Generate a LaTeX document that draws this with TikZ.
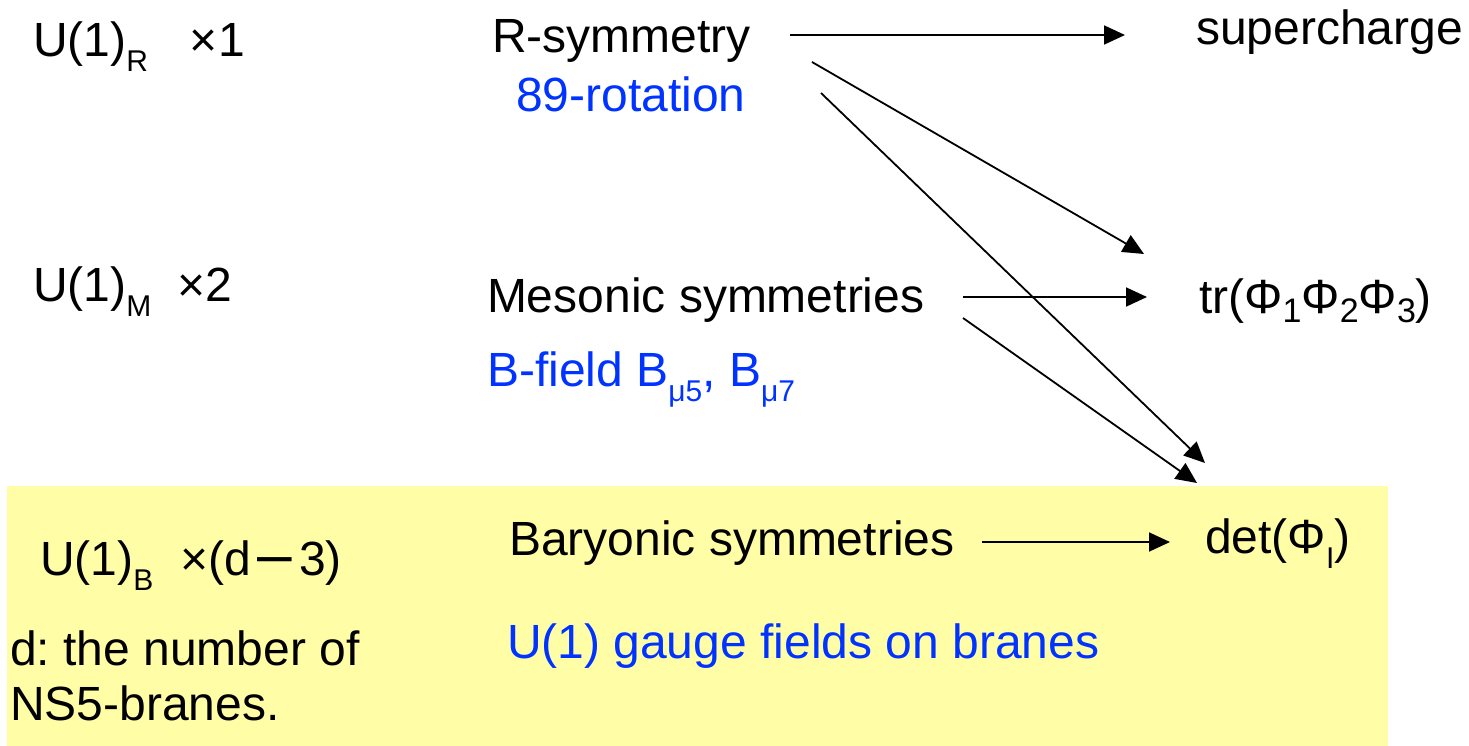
\documentclass[tikz,border=0pt]{standalone}
\usepackage{fontspec}
\usepackage{graphicx}
\setmainfont{Liberation Sans}
\usetikzlibrary{arrows.meta}
\frenchspacing
\definecolor{txtblue}{RGB}{0,51,255}
\definecolor{boxyellow}{RGB}{255,253,165}
\newcommand\lsub[2][15pt]{\raisebox{-#1}{\fontsize{30}{30}\selectfont #2}}
\newcommand\tsub[1]{\raisebox{-9pt}{\fontsize{34}{34}\selectfont #1}}
\begin{document}
\begin{tikzpicture}[x=1pt,y=-1pt,
  lbl/.style={anchor=base west, inner sep=0pt, outer sep=0pt, font=\fontsize{48}{55}\selectfont},
  bluelbl/.style={lbl, text=txtblue},
  arr/.style={line width=1.8pt, -{Triangle[length=21pt,width=19pt]}}]
\useasboundingbox (0,0) rectangle (1469,746);
\fill[boxyellow] (7,486) rectangle (1388,746);

% left column
\node[lbl] (uR) at (33,57) {U(1)\lsub{R}\hspace{42pt}×1};
\node[lbl] (uM) at (33,301) {U(1)\lsub{M}\hspace{26pt}×2};
\node[lbl] (uB) at (40,575) {U(1)\lsub{B}\hspace{27pt}×(d\makebox[48pt]{\scalebox{0.72}[1.3]{—}}3)};
\node[lbl, align=left] (dnote) at (10,720) {d: the number of\\NS5-branes.};

% middle column
\node[lbl] (rsym) at (492,53) {R-symmetry};
\node[bluelbl] (rot) at (516,112) {89-rotation};
\node[lbl] (meson) at (487,312) {Mesonic symmetries};
\node[bluelbl] (bfield) at (487,386) {B-field B\lsub{μ5}, B\lsub{μ7}};
\node[lbl] (baryon) at (509,555) {Baryonic symmetries};
\node[bluelbl] (gauge) at (507,658) {U(1) gauge fields on branes};

% right column
\node[lbl] (superch) at (1196,45) {supercharge};
\node[lbl] (trn) at (1199,313) {tr(Φ\tsub{1}Φ\tsub{2}Φ\tsub{3})};
\node[lbl] (detn) at (1205,553) {det(Φ\lsub{I})};

% connector end points
\coordinate (rOutA) at (790,35);
\coordinate (rOutB) at (812,62);
\coordinate (rOutC) at (821,93);
\coordinate (mOutA) at (963,297);
\coordinate (mOutB) at (963,318);
\coordinate (bOut) at (982,542);
\coordinate (sIn) at (1125,35);
\coordinate (tInA) at (1144,254);
\coordinate (tInB) at (1147,297);
\coordinate (dInA) at (1205,463);
\coordinate (dInB) at (1197,483);
\coordinate (dInC) at (1170,542);

\draw[arr] (rOutA) -- (sIn);
\draw[arr] (rOutB) -- (tInA);
\draw[arr] (rOutC) -- (dInA);
\draw[arr] (mOutA) -- (tInB);
\draw[arr] (mOutB) -- (dInB);
\draw[arr] (bOut) -- (dInC);
\end{tikzpicture}
\end{document}
